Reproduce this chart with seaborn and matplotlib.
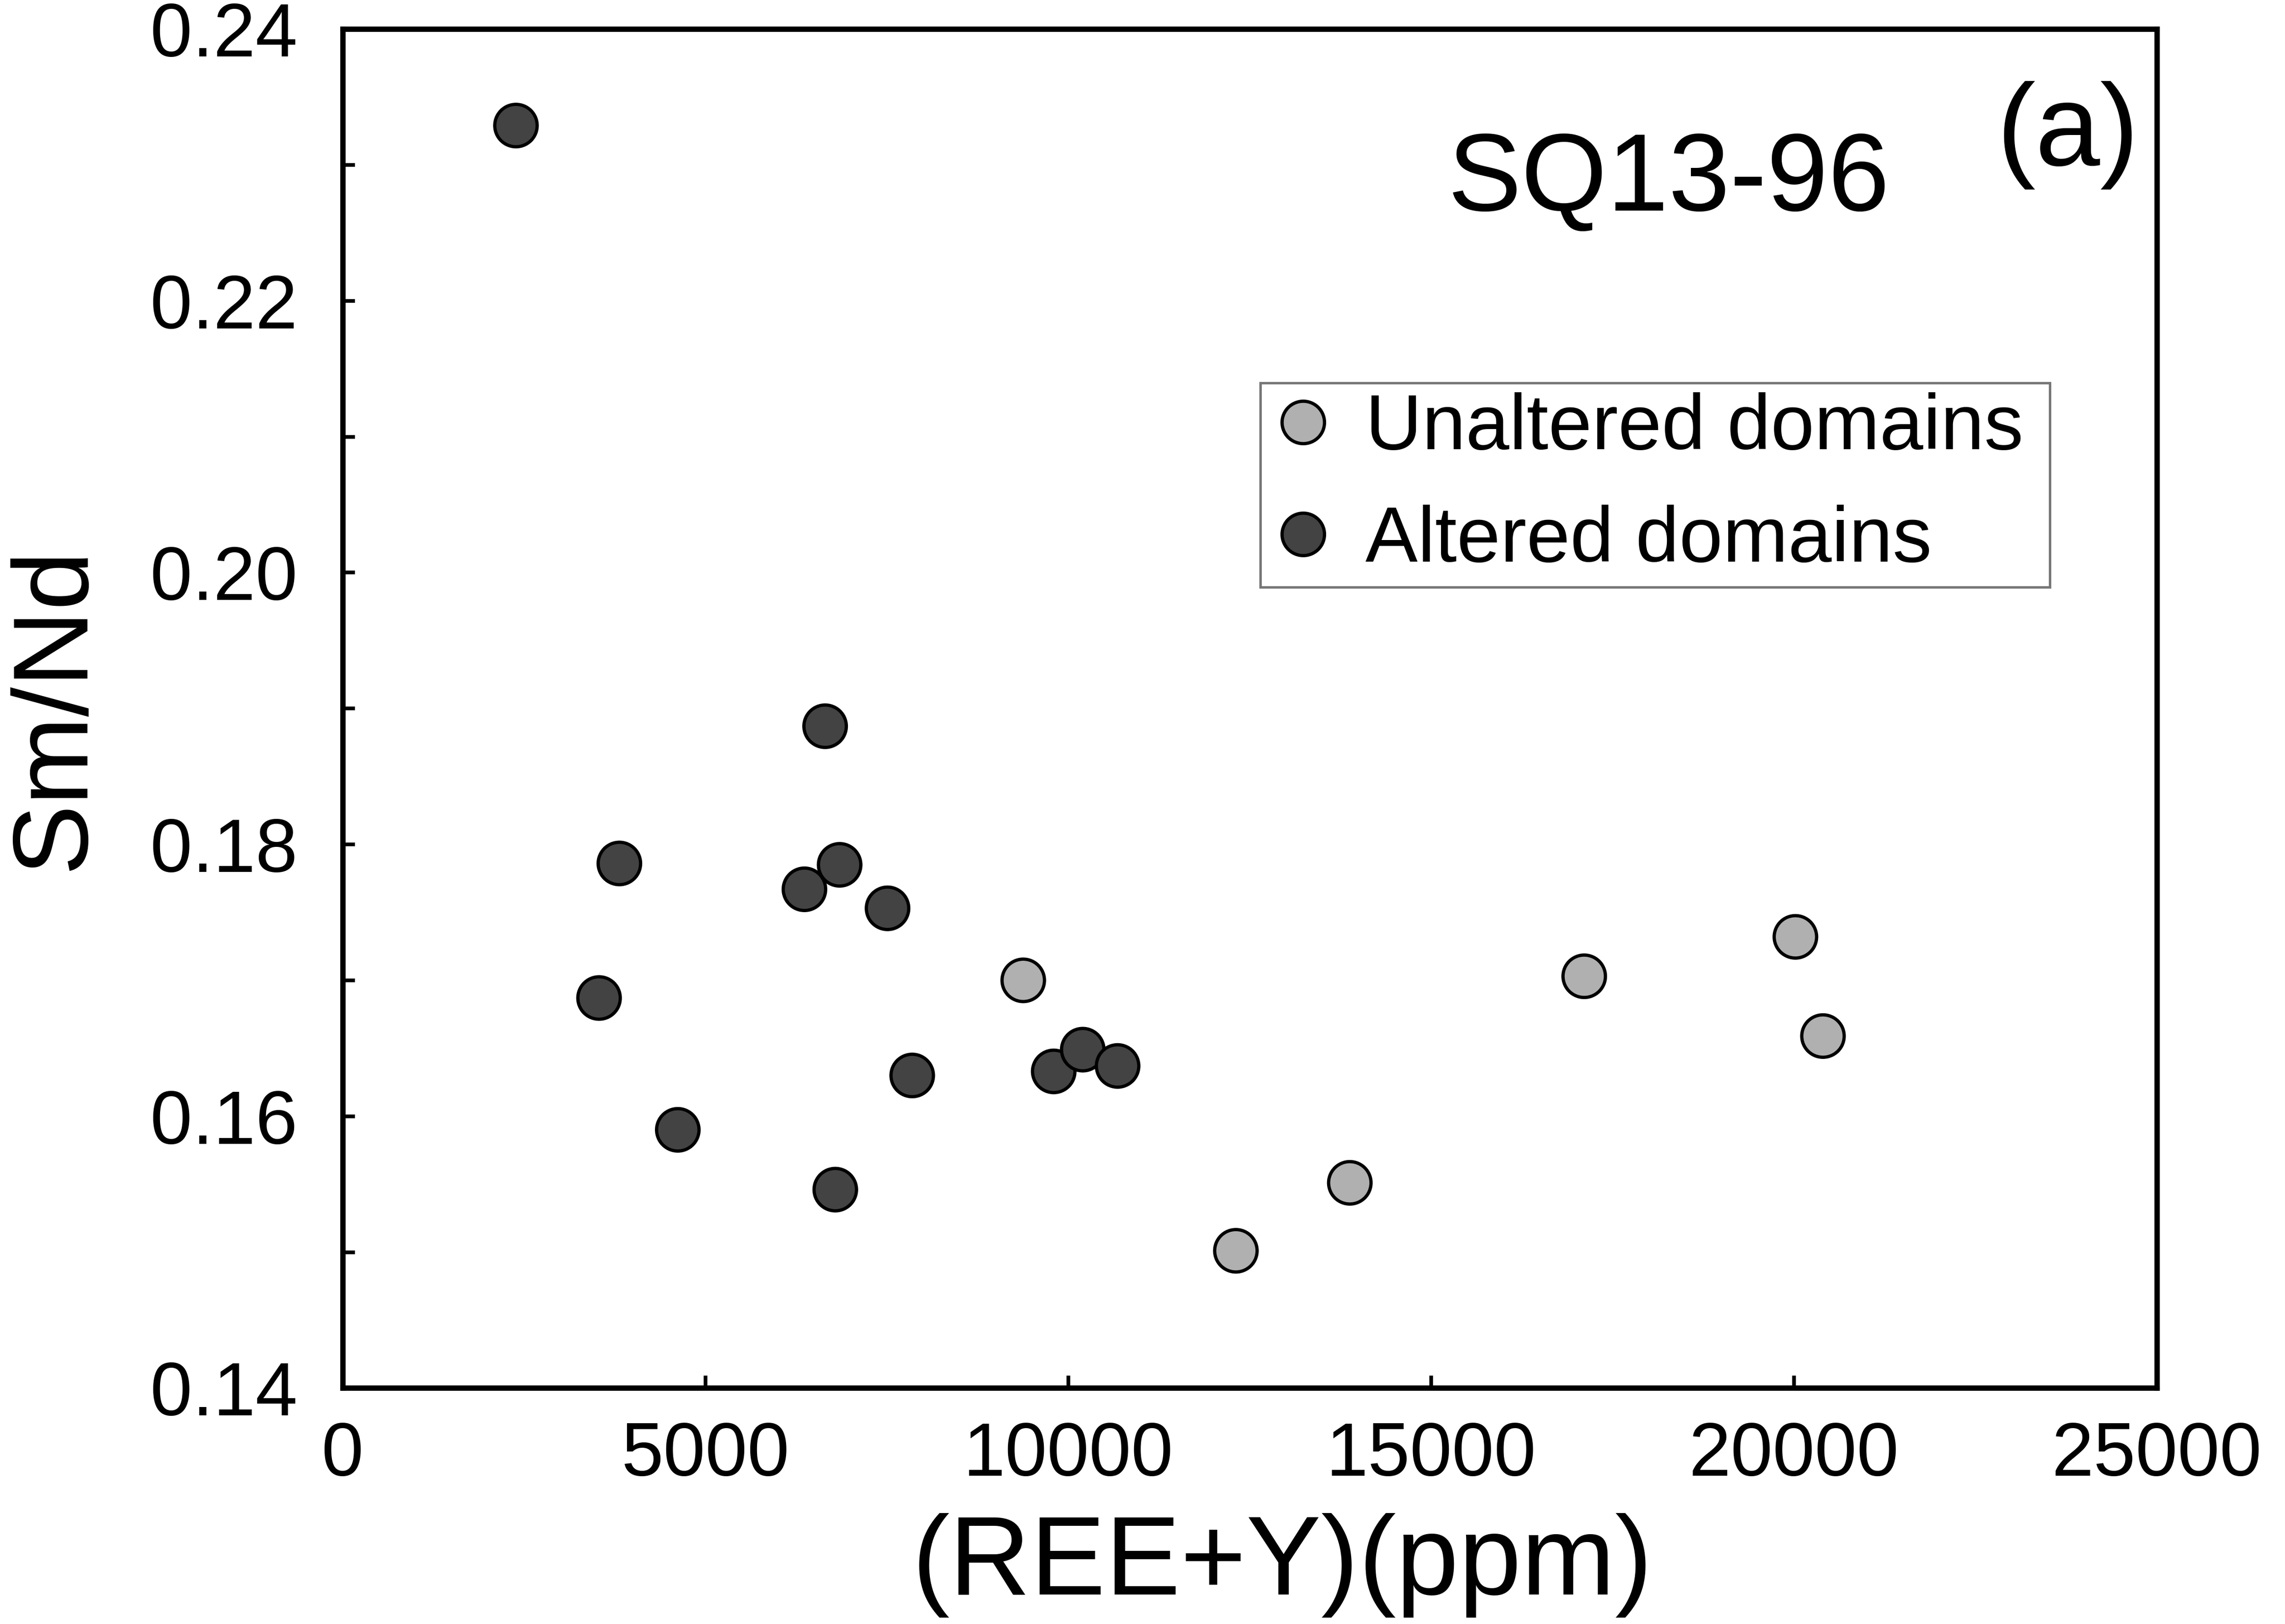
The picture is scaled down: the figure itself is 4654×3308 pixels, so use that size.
import numpy as np
import pandas as pd
import matplotlib
matplotlib.use("Agg")
import matplotlib.pyplot as plt
import seaborn as sns

# ---- data ----
unaltered_x = [9380, 12310, 13880, 17110, 20020, 20400]
unaltered_y = [0.1700, 0.1501, 0.1551, 0.1703, 0.1732, 0.1659]

altered_x = [2390, 3815, 3535, 4620, 6650, 6365, 6850, 7510, 7850, 6790, 9800, 10200, 10680]
altered_y = [0.2329, 0.1786, 0.1687, 0.1590, 0.1887, 0.1767, 0.1785, 0.1753, 0.1630, 0.1546, 0.1633, 0.1649, 0.1637]

groups = ["Unaltered domains", "Altered domains"]
group_colors = ["#b0b0b0", "#434343"]

x_ticks = [0, 5000, 10000, 15000, 20000, 25000]
y_ticks = [0.14, 0.16, 0.18, 0.20, 0.22, 0.24]

df = pd.DataFrame({
    "x": unaltered_x + altered_x,
    "y": unaltered_y + altered_y,
    "group": [groups[0]] * len(unaltered_x) + [groups[1]] * len(altered_x),
})

sns.set_theme(style="white")
plt.rcParams["font.family"] = ["Liberation Sans", "DejaVu Sans"]
plt.rcParams.update({"text.color": "black", "axes.labelcolor": "black",
                     "xtick.color": "black", "ytick.color": "black"})

fig = plt.figure(figsize=(4654 / 300, 3308 / 300), dpi=300)
ax = fig.add_axes([0.1499, 0.1453, 0.9439 - 0.1499, 0.9821 - 0.1453])

sns.scatterplot(data=df, x="x", y="y", hue="group", hue_order=groups,
                palette=dict(zip(groups, group_colors)), s=430,
                edgecolor="black", linewidth=1.6, ax=ax, zorder=3)

ax.set_xlim(0, 25000)
ax.set_ylim(0.14, 0.24)
ax.set_xticks(x_ticks)
ax.set_xticklabels([str(t) for t in x_ticks])
ax.set_yticks(y_ticks)
ax.set_yticklabels([f"{t:.2f}" for t in y_ticks])
ax.set_yticks([0.15, 0.17, 0.19, 0.21, 0.23], minor=True)

ax.tick_params(axis="both", which="both", direction="in", length=6, width=1.8,
               bottom=True, left=True, top=False, right=False, colors="black")
ax.tick_params(axis="x", which="major", labelsize=37, pad=16)
ax.tick_params(axis="y", which="major", labelsize=37, pad=22)

for sp in ax.spines.values():
    sp.set_linewidth(2.6)
    sp.set_color("black")

ax.set_xlabel("(REE+Y)(ppm)", fontsize=55, labelpad=12)
ax.xaxis.set_label_coords(0.518, -0.092)
ax.set_ylabel("Sm/Nd", fontsize=52, labelpad=22)

ax.text(0.731, 0.8875, "SQ13-96", transform=ax.transAxes, fontsize=54,
        ha="center", va="center", color="black")
ax.text(0.951, 0.922, "(a)", transform=ax.transAxes, fontsize=57,
        ha="center", va="center", color="black")

leg = ax.legend(loc="upper left", bbox_to_anchor=(0.506, 0.5895, 0.435, 0.15),
                mode="expand", borderaxespad=0,
                fontsize=38.3, frameon=True, fancybox=False, edgecolor="#777777",
                framealpha=1, handlelength=0.85, handletextpad=0.37, borderpad=0.12,
                labelspacing=0.5, markerscale=1.0)
leg.get_frame().set_linewidth(1.2)
for t in leg.get_texts():
    t.set_color("black")

fig.savefig("out.png", dpi=300, facecolor="white")
